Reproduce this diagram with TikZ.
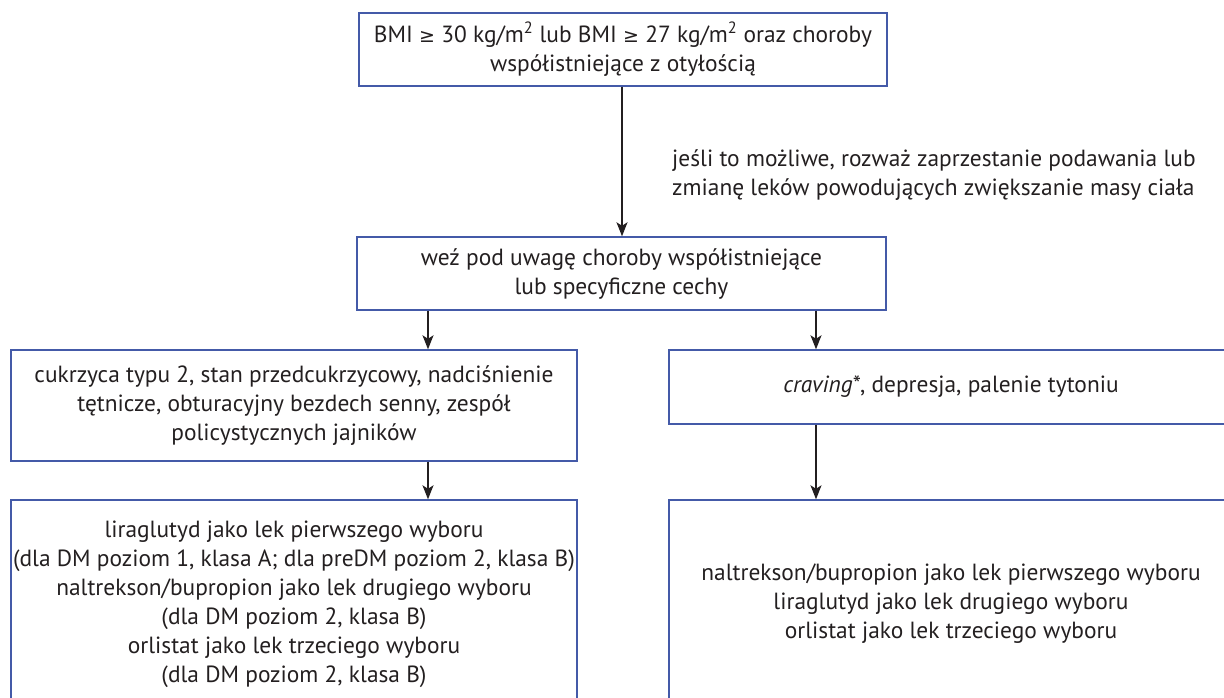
\documentclass[tikz,border=0pt]{standalone}
\usepackage{fontspec}
\setmainfont{PT Sans}
\newfontfamily\symfont{DejaVu Sans}
\newcommand{\gesym}{{\symfont\fontsize{19}{29}\selectfont ≥}}
\usetikzlibrary{arrows.meta,calc}
\definecolor{boxblue}{RGB}{68,90,168}
\definecolor{inkcol}{RGB}{35,31,32}
\begin{document}
\begin{tikzpicture}[x=1pt,y=-1pt,
  every node/.style={font=\fontsize{23.4}{29}\selectfont, text=inkcol},
  flowbox/.style={draw=boxblue, line width=1.4pt, rectangle, align=center, inner sep=0pt},
  arr/.style={draw=inkcol, line width=1.4pt, -{Stealth[length=14pt,width=11pt,inset=3.5pt]}}]
\useasboundingbox (0,0) rectangle (1224,698);
\clip (0,0) rectangle (1224,698);
% boxes
\node[flowbox, minimum width=528pt, minimum height=73pt] (top) at (623,49.5)
  {BMI \gesym{} 30 kg/m\textsuperscript{2} lub BMI \gesym{} 27 kg/m\textsuperscript{2} oraz choroby\\współistniejące z otyłością};
\node[flowbox, minimum width=529pt, minimum height=73pt] (mid) at (621.5,273.5)
  {weź pod uwagę choroby współistniejące\\lub specyficzne cechy};
\node[flowbox, minimum width=566pt, minimum height=111pt] (l1) at (294,405.5)
  {cukrzyca typu 2, stan przedcukrzycowy, nadciśnienie\\tętnicze, obturacyjny bezdech senny, zespół\\policystycznych jajników};
\node[flowbox, minimum width=564pt, minimum height=74pt] (r1) at (951,387)
  {\textit{craving}*, depresja, palenie tytoniu};
\node[flowbox, minimum width=566pt, minimum height=208pt] (l2) at (294,604)
  {liraglutyd jako lek pierwszego wyboru\\(dla DM poziom 1, klasa A; dla preDM poziom 2, klasa B)\\naltrekson/bupropion jako lek drugiego wyboru\\(dla DM poziom 2, klasa B)\\orlistat jako lek trzeciego wyboru\\(dla DM poziom 2, klasa B)};
\node[flowbox, minimum width=564pt, minimum height=208pt] (r2) at (951,604)
  {naltrekson/bupropion jako lek pierwszego wyboru\\liraglutyd jako lek drugiego wyboru\\orlistat jako lek trzeciego wyboru};
% label
\node[anchor=west, align=left, inner sep=0pt] (lab) at (672,175)
  {jeśli to możliwe, rozważ zaprzestanie podawania lub\\zmianę leków powodujących zwiększanie masy ciała};
% connectors
\coordinate (cl) at (428,0);
\coordinate (cr) at (816,0);
\coordinate (cm) at (622,0);
\draw[arr] (top.south -| cm) -- (mid.north -| cm);
\draw[arr] (mid.south -| cl) -- (l1.north -| cl);
\draw[arr] (mid.south -| cr) -- (r1.north -| cr);
\draw[arr] (l1.south -| cl) -- (l2.north -| cl);
\draw[arr] (r1.south -| cr) -- (r2.north -| cr);
\end{tikzpicture}
\end{document}
